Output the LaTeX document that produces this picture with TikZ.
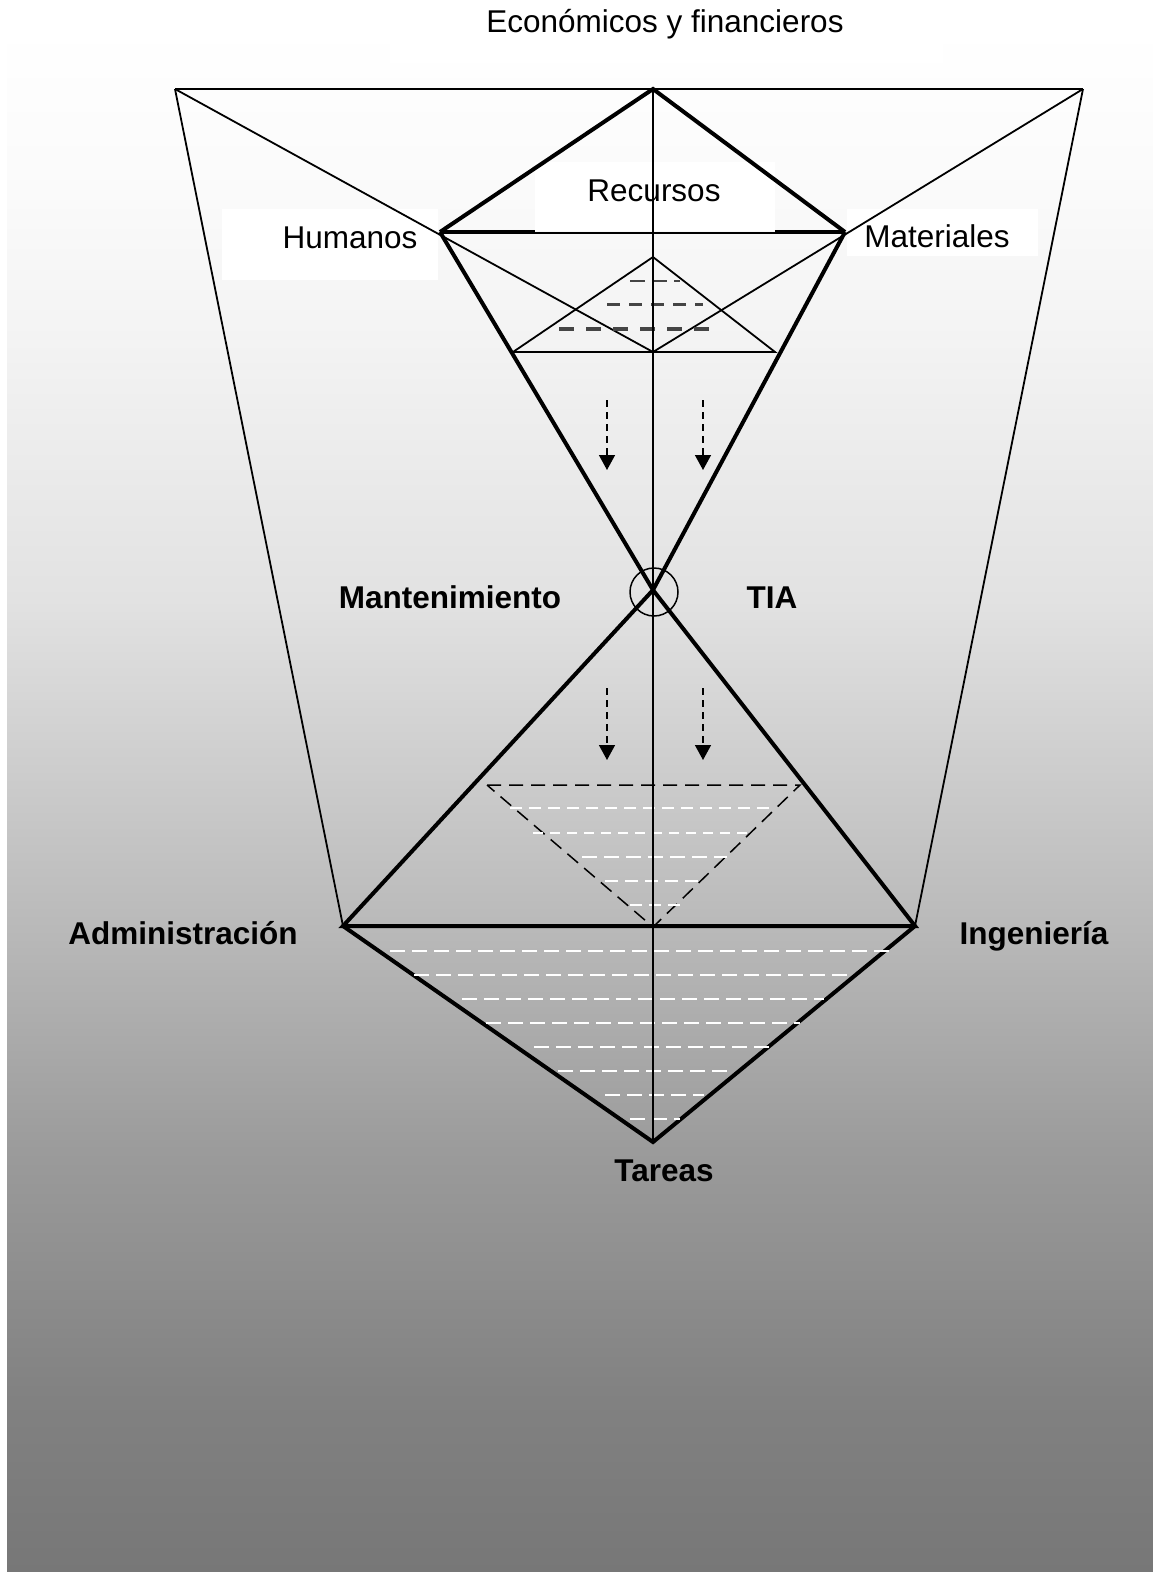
\documentclass[tikz,border=0pt]{standalone}
\usepackage{fontspec}
\setmainfont{Liberation Sans}
\usetikzlibrary{arrows.meta}

% backdrop: white at the top, darkening to mid grey at the bottom
\pgfdeclareverticalshading{backdrop}{100bp}{%
  rgb(0bp)=(0.467,0.467,0.467);
  rgb(25bp)=(0.467,0.467,0.467);
  rgb(30.57bp)=(0.506,0.506,0.506);
  rgb(38.66bp)=(0.608,0.608,0.608);
  rgb(45.78bp)=(0.725,0.725,0.725);
  rgb(56.46bp)=(0.886,0.886,0.886);
  rgb(64.87bp)=(0.953,0.953,0.953);
  rgb(69.4bp)=(0.98,0.98,0.98);
  rgb(75bp)=(1,1,1);
  rgb(100bp)=(1,1,1)}

\definecolor{dashgray}{gray}{0.27}

\tikzset{
  thinln/.style={line width=1.8pt},
  thickln/.style={line width=4pt, line join=miter},
  labelbox/.style={fill=white, draw=none},
  lbl/.style={font=\fontsize{31.5}{38}\selectfont, inner sep=0pt, anchor=base},
  blbl/.style={lbl, font=\fontsize{31.5}{38}\selectfont\bfseries},
  blackdash/.style={line width=1.5pt, dash pattern=on 14pt off 8pt},
  whitedash/.style={white, line width=2pt, dash pattern=on 15pt off 7pt},
  flowarrow/.style={line width=1.5pt, dash pattern=on 7pt off 5pt,
    -{Triangle[width=16pt,length=15pt]}},
}

\begin{document}
\begin{tikzpicture}[x=1pt, y=-1pt]
\useasboundingbox (0,0) rectangle (1153,1572);

% background
\fill[white] (0,0) rectangle (1153,1572);
\fill[shading=backdrop] (7,27) rectangle (1153,1572);
\fill[white] (390,0) rectangle (943,63);

% main points
\coordinate (TL) at (175,89);
\coordinate (TR) at (1083,89);
\coordinate (TC) at (653,89);
\coordinate (HU) at (440,232);
\coordinate (MA) at (845,232);
\coordinate (SC) at (653,352);
\coordinate (X)  at (653,590);
\coordinate (AD) at (343,926);
\coordinate (IN) at (915,926);
\coordinate (BC) at (653,926);
\coordinate (TA) at (653,1142);

% label boxes
\fill[labelbox] (222,209) rectangle (438,280);
\fill[labelbox] (847,209) rectangle (1038,256);
\fill[labelbox] (535,162) rectangle (775,231);

% outer frame
\draw[thinln] (TL) -- (TR);
\draw[thinln] (TL) -- (AD);
\draw[thinln] (TR) -- (IN);
\draw[thinln] (TL) -- (SC);
\draw[thinln] (TR) -- (SC);

% upper triangle of resources
\draw[thickln] (HU) -- (TC) -- (MA);
\draw[thickln] (HU) -- (535,232);
\draw[thickln] (775,232) -- (MA);
\draw[thinln] (535,233) -- (775,233);

% hourglass and lower triangle
\draw[thickln] (HU) -- (X) -- (MA);
\draw[thickln] (X) -- (AD) -- (IN) -- cycle;
\draw[thickln] (AD) -- (TA) -- (IN);

% small inner triangle with its dashed layers
\coordinate (ST) at (653,257);
\coordinate (SL) at (513,352);
\coordinate (SR) at (775,352);
\draw[thinln] (ST) -- (SL) -- (SR) -- cycle;
\draw[dashgray, line width=2pt, dash pattern=on 15pt off 7pt] (630,281) -- (680,281);
\draw[dashgray, line width=3pt, dash pattern=on 13pt off 9pt] (607,304) -- (703,304);
\draw[dashgray, line width=4.5pt, dash pattern=on 15pt off 12pt] (559,329) -- (715,329);

% dashed inverted triangle
\coordinate (DL) at (487,785);
\coordinate (DR) at (800,785);
\coordinate (DB) at (653,927);
\draw[blackdash] (DL) -- (DR) -- (DB) -- cycle;
\draw[whitedash, dash pattern=on 12pt off 7pt] (510,808) -- (773,808);
\draw[whitedash, dash pattern=on 10pt off 7pt] (533,833) -- (753,833);
\draw[whitedash, dash pattern=on 15pt off 7pt] (582,857) -- (727,857);
\draw[whitedash, dash pattern=on 13pt off 7pt] (605,881) -- (703,881);
\draw[whitedash, dash pattern=on 12pt off 7pt] (630,905) -- (680,905);

% white layers in the lower diamond
\draw[whitedash] (390,951) -- (889,951);
\draw[whitedash] (414,975) -- (848,975);
\draw[whitedash] (462,999) -- (824,999);
\draw[whitedash] (486,1023) -- (800,1023);
\draw[whitedash] (534,1047) -- (769,1047);
\draw[whitedash] (558,1071) -- (728,1071);
\draw[whitedash] (605,1095) -- (704,1095);
\draw[whitedash] (630,1119) -- (680,1119);

% flow arrows
\coordinate (a1s) at (607,400);
\coordinate (a1e) at (607,470);
\coordinate (a2s) at (703,400);
\coordinate (a2e) at (703,470);
\coordinate (a3s) at (607,688);
\coordinate (a3e) at (607,760);
\coordinate (a4s) at (703,688);
\coordinate (a4e) at (703,760);
\draw[flowarrow] (a1s) -- (a1e);
\draw[flowarrow] (a2s) -- (a2e);
\draw[flowarrow] (a3s) -- (a3e);
\draw[flowarrow] (a4s) -- (a4e);

% texts
\node[lbl] (econ) at (665,32) {Económicos y financieros};
\node[lbl] (recursos) at (654,201) {Recursos};
\node[lbl] (humanos) at (350,248) {Humanos};
\node[lbl] (materiales) at (937,247) {Materiales};
\node[blbl] (mant) at (450,608) {Mantenimiento};
\node[blbl] (tia) at (772,608) {TIA};
\node[blbl] (admin) at (183,944) {Administración};
\node[blbl] (ing) at (1034,944) {Ingeniería};
\node[blbl] (tareas) at (664,1181) {Tareas};

% central axis and hub
\draw[thinln] (TC) -- (TA);
\node[circle, draw, line width=1.5pt, minimum size=48pt, inner sep=0pt] (hub) at (654,592) {};
\end{tikzpicture}
\end{document}
